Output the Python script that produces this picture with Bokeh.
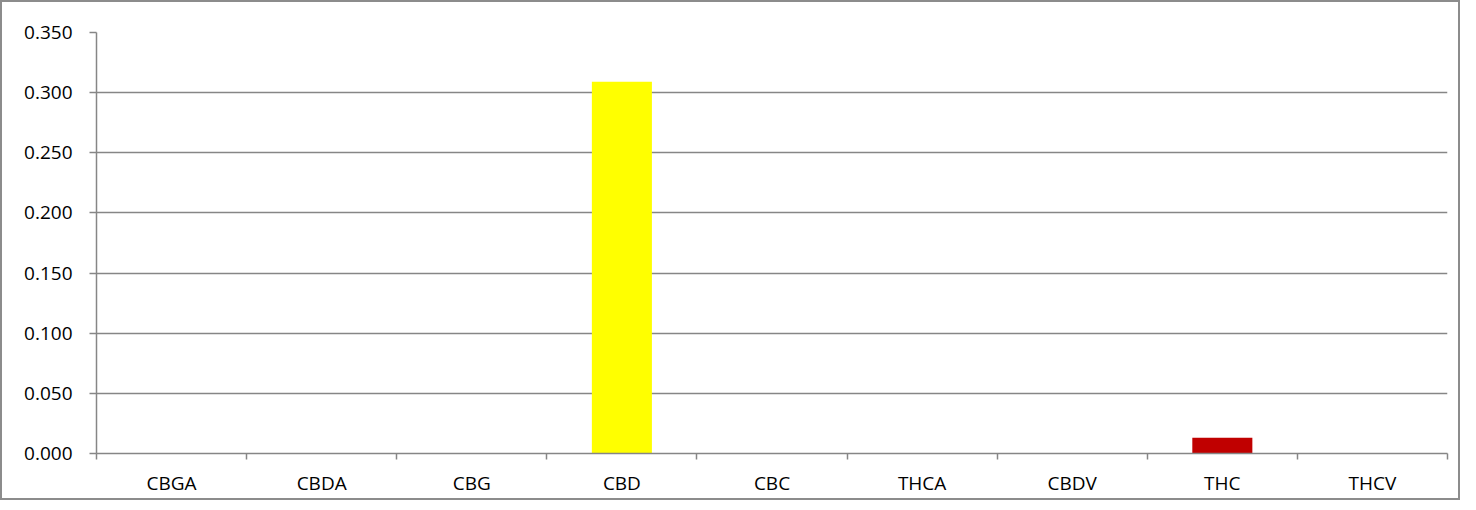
from bokeh.plotting import figure
from bokeh.models import Range1d, FixedTicker, ColumnDataSource, NumeralTickFormatter
from bokeh.embed import file_html
from bokeh.resources import INLINE

categories = ["CBGA", "CBDA", "CBG", "CBD", "CBC", "THCA", "CBDV", "THC", "THCV"]
values = [0.0, 0.0, 0.0, 0.309, 0.0, 0.0, 0.0, 0.013, 0.0]
bar_colors = ["#4F81BD", "#4F81BD", "#4F81BD", "#FFFF00", "#4F81BD", "#4F81BD", "#4F81BD", "#C00000", "#4F81BD"]
y_ticks = [0.0, 0.05, 0.10, 0.15, 0.20, 0.25, 0.30, 0.35]

n = len(categories)
xs = list(range(n))
src = ColumnDataSource(dict(x=xs, top=values, color=bar_colors, cat=categories))

FONT = "Open Sans"
GRID = "#868686"

p = figure(frame_width=1351, frame_height=421, output_backend="svg", toolbar_location=None,
           x_range=Range1d(-0.5, n - 0.5), y_range=Range1d(0, 0.35),
           min_border_left=94, min_border_right=11, min_border_top=30, min_border_bottom=35)
p.styles = {"border": "2px solid #8c8c8c"}
p.outline_line_color = None
p.background_fill_color = "white"

p.vbar(x="x", top="top", width=0.4, color="color", line_color=None, source=src)

# y axis
p.yaxis.ticker = FixedTicker(ticks=y_ticks)
p.yaxis.formatter = NumeralTickFormatter(format="0.000")
p.yaxis.axis_line_color = GRID
p.yaxis.axis_line_width = 1.5
p.yaxis.major_tick_line_color = GRID
p.yaxis.major_tick_line_width = 1.5
p.yaxis.major_tick_out = 7
p.yaxis.major_tick_in = 0
p.yaxis.minor_tick_line_color = None
p.yaxis.major_label_standoff = 17
p.yaxis.major_label_text_font = FONT
p.yaxis.major_label_text_font_size = "19px"
p.yaxis.major_label_text_color = "#000000"

# x axis: labels at centers, ticks between categories
p.xaxis.ticker = FixedTicker(ticks=xs, minor_ticks=[i - 0.5 for i in range(n + 1)])
p.xaxis.major_label_overrides = {i: c for i, c in zip(xs, categories)}
p.xaxis.axis_line_color = GRID
p.xaxis.axis_line_width = 1.5
p.xaxis.major_tick_line_color = None
p.xaxis.major_tick_out = 0
p.xaxis.major_tick_in = 0
p.xaxis.minor_tick_line_color = GRID
p.xaxis.minor_tick_line_width = 1.5
p.xaxis.minor_tick_out = 6
p.xaxis.minor_tick_in = 0
p.xaxis.major_label_standoff = 10
p.xaxis.major_label_text_font = FONT
p.xaxis.major_label_text_font_size = "19px"
p.xaxis.major_label_text_color = "#000000"

p.xgrid.grid_line_color = None
p.ygrid.grid_line_color = GRID
p.ygrid.grid_line_width = 1.5

open("out.html", "w").write(file_html(p, INLINE))
